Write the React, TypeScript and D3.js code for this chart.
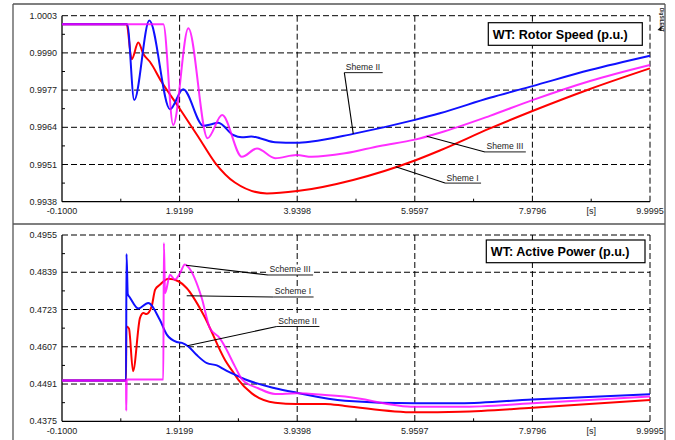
import React, { useEffect, useRef } from "react";
import * as d3 from "d3";

// ---------- axis ticks ----------
const timeTicks = [-0.1, 1.9199, 3.9398, 5.9597, 7.9796, 9.9995];
const timeTickLabels = ["-0.1000", "1.9199", "3.9398", "5.9597", "7.9796", "9.9995"];
const timeUnitLabel = "[s]";

const speedTicks = [0.9938, 0.9951, 0.9964, 0.9977, 0.999, 1.0003];
const speedTickLabels = ["0.9938", "0.9951", "0.9964", "0.9977", "0.9990", "1.0003"];

const powerTicks = [0.4375, 0.4491, 0.4607, 0.4723, 0.4839, 0.4955];
const powerTickLabels = ["0.4375", "0.4491", "0.4607", "0.4723", "0.4839", "0.4955"];

// ---------- rotor speed (p.u.) : [time s, value] ----------
const speedSchemeI: [number, number][] = [
  [-0.1, 1.0], [1.0, 1.0], [1.01, 1.0], [1.097, 0.99878], [1.21, 0.99936], [1.3, 0.99895],
  [1.41, 0.99869], [1.61, 0.99799], [1.9, 0.99712], [2.24, 0.99607], [2.53, 0.99516],
  [2.87, 0.99447], [3.42, 0.99409], [3.94, 0.99417], [4.9, 0.99456], [5.96, 0.99524],
  [6.39, 0.99559], [7.25, 0.99636], [7.98, 0.99697], [8.97, 0.99774], [9.9995, 0.99846],
];
const speedSchemeII: [number, number][] = [
  [-0.1, 1.0], [1.0, 1.0], [1.02, 1.0], [1.14, 0.99735], [1.4, 1.00013], [1.755, 0.99703],
  [1.98, 0.99773], [2.33, 0.99645], [2.45, 0.9965], [2.585, 0.99656], [2.84, 0.99613],
  [2.99, 0.99605], [3.15, 0.99608], [3.3, 0.99602], [3.56, 0.99588], [3.93, 0.99586],
  [4.19, 0.9959], [4.9, 0.99617], [5.96, 0.99666], [6.39, 0.99689], [7.25, 0.99743],
  [7.98, 0.99784], [8.97, 0.9984], [9.9995, 0.9989],
];
const speedSchemeIII: [number, number][] = [
  [-0.1, 1.0], [1.0, 1.0], [1.64, 1.0], [1.81, 0.99648], [2.07, 0.99986], [2.4, 0.99602],
  [2.65, 0.99683], [2.99, 0.99537], [3.25, 0.99566], [3.56, 0.99532], [3.93, 0.99543],
  [4.19, 0.99537], [4.76, 0.99549], [5.36, 0.99575], [5.96, 0.99597], [6.39, 0.99621],
  [7.25, 0.9968], [7.98, 0.99735], [8.97, 0.99802], [9.9995, 0.99858],
];

// ---------- active power (p.u.) : [time s, value] ----------
const powerSchemeI: [number, number][] = [
  [-0.1, 0.4502], [1.0, 0.4502], [1.004, 0.467], [1.05, 0.4664], [1.12, 0.4531],
  [1.24, 0.4697], [1.3, 0.4712], [1.35, 0.4709], [1.44, 0.4733], [1.5, 0.4785],
  [1.58, 0.48], [1.73, 0.4819], [1.9, 0.4811], [2.04, 0.479], [2.33, 0.4707],
  [2.7, 0.4566], [2.87, 0.452], [2.93, 0.4504], [3.16, 0.4462], [3.56, 0.4433],
  [3.93, 0.4429], [4.42, 0.4429], [4.76, 0.4423], [5.96, 0.4403], [6.74, 0.4405],
  [7.98, 0.4417], [9.9995, 0.4441],
];
const powerSchemeII: [number, number][] = [
  [-0.1, 0.4502], [1.0, 0.4502], [1.008, 0.4896], [1.03, 0.477], [1.06, 0.4762],
  [1.21, 0.4726], [1.38, 0.4743], [1.58, 0.4691], [1.7, 0.4645], [1.87, 0.4622],
  [1.96, 0.4619], [2.07, 0.4608], [2.21, 0.4582], [2.39, 0.4556], [2.56, 0.4549],
  [2.7, 0.4535], [2.87, 0.452], [3.04, 0.4506], [3.56, 0.4478], [3.93, 0.4464],
  [4.76, 0.4439], [5.96, 0.4431], [6.74, 0.4431], [7.98, 0.4443], [9.9995, 0.4459],
];
const powerSchemeIII: [number, number][] = [
  [-0.1, 0.4502], [1.0, 0.4502], [1.003, 0.4408], [1.012, 0.4505], [1.64, 0.4505],
  [1.65, 0.493], [1.67, 0.4774], [1.755, 0.4831], [1.84, 0.4816], [1.93, 0.4837],
  [2.01, 0.4863], [2.07, 0.4855], [2.3, 0.4759], [2.44, 0.4665], [2.61, 0.4634],
  [2.7, 0.4607], [2.87, 0.4546], [3.0, 0.4504], [3.27, 0.4478], [3.56, 0.446],
  [3.93, 0.4462], [4.42, 0.4457], [4.76, 0.4452], [5.96, 0.442], [6.74, 0.442],
  [7.98, 0.4431], [9.9995, 0.4452],
];

// ---------- annotations: label, anchor on curve [t, v], label start [t, v] ----------
const speedNotes = [
  { text: "Sheme II", anchor: [4.903, 0.99617], label: [4.749, 0.99831] },
  { text: "Sheme III", anchor: [6.164, 0.99609], label: [7.166, 0.99554] },
  { text: "Sheme I", anchor: [5.632, 0.99502], label: [6.479, 0.99445] },
];
const powerNotes = [
  { text: "Scheme III", anchor: [2.03, 0.48607], label: [3.438, 0.48305] },
  { text: "Scheme I", anchor: [2.042, 0.4766], label: [3.529, 0.4762] },
  { text: "Scheme II", anchor: [2.052, 0.46104], label: [3.588, 0.46701] },
];

const COLORS = { I: "#ff0000", II: "#1010ff", III: "#ff00ff" };
const FONT = "'Liberation Sans', Arial, Helvetica, sans-serif";

export default function App() {
  const ref = useRef<SVGSVGElement | null>(null);

  useEffect(() => {
    const svg = d3.select(ref.current);
    svg.selectAll("*").remove();

    const L = 62, R = 650;
    const x = d3.scaleLinear().domain([timeTicks[0], timeTicks[timeTicks.length - 1]]).range([L, R]);

    // outer frame
    const frame = svg.append("g").attr("fill", "none").attr("stroke", "#555").attr("stroke-width", 1.3);
    frame.append("line").attr("x1", 13).attr("x2", 13).attr("y1", 4).attr("y2", 440);
    frame.append("line").attr("x1", 665).attr("x2", 665).attr("y1", 4).attr("y2", 440);
    frame.append("line").attr("x1", 13).attr("x2", 665).attr("y1", 4).attr("y2", 4);
    frame.append("line").attr("x1", 13).attr("x2", 665).attr("y1", 224).attr("y2", 224);

    // DIgSILENT mark
    svg.append("text")
      .attr("transform", "translate(659.5,8) rotate(90)")
      .attr("font-family", FONT).attr("font-size", 4.6).attr("font-weight", "bold")
      .attr("fill", "#222").text("DIgSILENT");
    svg.append("path").attr("d", "M657.5,30 L661.5,26 L661.5,31 Z").attr("fill", "#111");

    function panel(opts: {
      top: number; bottom: number; yTicks: number[]; yLabels: string[];
      series: { data: [number, number][]; color: string; opacity: number }[];
      title: string; box: [number, number, number, number];
      notes: { text: string; anchor: number[]; label: number[] }[];
    }) {
      const y = d3.scaleLinear()
        .domain([opts.yTicks[0], opts.yTicks[opts.yTicks.length - 1]])
        .range([opts.bottom, opts.top]);
      const g = svg.append("g");

      // dashed grid
      const grid = g.append("g").attr("stroke", "#000").attr("stroke-width", 1)
        .attr("stroke-dasharray", "6,3");
      opts.yTicks.slice(1).forEach((v) => {
        grid.append("line").attr("x1", L).attr("x2", R).attr("y1", y(v)).attr("y2", y(v));
      });
      timeTicks.slice(1).forEach((t) => {
        grid.append("line").attr("x1", x(t)).attr("x2", x(t)).attr("y1", opts.top).attr("y2", opts.bottom);
      });

      // solid axes
      g.append("line").attr("x1", L).attr("x2", L).attr("y1", opts.top).attr("y2", opts.bottom)
        .attr("stroke", "#000").attr("stroke-width", 1.3);
      g.append("line").attr("x1", L).attr("x2", R).attr("y1", opts.bottom).attr("y2", opts.bottom)
        .attr("stroke", "#000").attr("stroke-width", 1.3);

      // minor ticks
      const minor = g.append("g").attr("stroke", "#000").attr("stroke-width", 1);
      for (let i = 0; i < timeTicks.length - 1; i++) {
        const t = (timeTicks[i] + timeTicks[i + 1]) / 2;
        minor.append("line").attr("x1", x(t)).attr("x2", x(t)).attr("y1", opts.bottom).attr("y2", opts.bottom - 3);
      }
      for (let i = 0; i < opts.yTicks.length - 1; i++) {
        const v = (opts.yTicks[i] + opts.yTicks[i + 1]) / 2;
        minor.append("line").attr("x1", L).attr("x2", L + 3).attr("y1", y(v)).attr("y2", y(v));
      }

      // tick labels
      const lab = g.append("g").attr("font-family", FONT).attr("font-size", 9).attr("fill", "#222");
      opts.yTicks.forEach((v, i) => {
        lab.append("text").attr("x", L - 5).attr("y", y(v)).attr("dy", "0.35em")
          .attr("text-anchor", "end").text(opts.yLabels[i]);
      });
      timeTicks.forEach((t, i) => {
        lab.append("text").attr("x", x(t)).attr("y", opts.bottom + 12.3)
          .attr("text-anchor", "middle").text(timeTickLabels[i]);
      });
      lab.append("text")
        .attr("x", x((timeTicks[4] + timeTicks[5]) / 2)).attr("y", opts.bottom + 12.3)
        .attr("text-anchor", "middle").text(timeUnitLabel);

      // curves
      const line = d3.line<[number, number]>()
        .x((d) => x(d[0])).y((d) => y(d[1])).curve(d3.curveMonotoneX);
      opts.series.forEach((s) => {
        g.append("path").attr("d", line(s.data) || "").attr("fill", "none")
          .attr("stroke", s.color).attr("stroke-width", 2).attr("stroke-opacity", s.opacity)
          .attr("stroke-linejoin", "round");
      });

      // annotations (white-backed labels with underline and leader)
      opts.notes.forEach((n) => {
        const ax = x(n.anchor[0]), ay = y(n.anchor[1]);
        const lx = x(n.label[0]), ly = y(n.label[1]);
        const bg = g.append("rect").attr("fill", "#fff");
        const txt = g.append("text").attr("x", lx + 1.5).attr("y", ly - 2.6)
          .attr("font-family", FONT).attr("font-size", 8.6).attr("fill", "#222").text(n.text);
        const w = (txt.node() as SVGTextElement).getComputedTextLength();
        bg.attr("x", lx).attr("y", ly - 10.5).attr("width", w + 4).attr("height", 10.5);
        g.append("line").attr("x1", lx).attr("x2", lx + w + 4).attr("y1", ly).attr("y2", ly)
          .attr("stroke", "#000").attr("stroke-width", 0.9);
        g.append("line").attr("x1", ax).attr("y1", ay).attr("x2", lx).attr("y2", ly)
          .attr("stroke", "#000").attr("stroke-width", 1.1);
      });

      // title box
      const [bx, by, bw, bh] = opts.box;
      g.append("rect").attr("x", bx).attr("y", by).attr("width", bw).attr("height", bh)
        .attr("fill", "#fff").attr("stroke", "#000").attr("stroke-width", 1.2);
      g.append("text").attr("x", bx + 4.5).attr("y", by + bh / 2).attr("dy", "0.36em")
        .attr("font-family", FONT).attr("font-size", 12.6).attr("font-weight", "bold")
        .attr("fill", "#000").text(opts.title);
    }

    panel({
      top: 15.7, bottom: 201.7, yTicks: speedTicks, yLabels: speedTickLabels,
      series: [
        { data: speedSchemeI, color: COLORS.I, opacity: 1 },
        { data: speedSchemeII, color: COLORS.II, opacity: 1 },
        { data: speedSchemeIII, color: COLORS.III, opacity: 0.82 },
      ],
      title: "WT: Rotor Speed (p.u.)", box: [488.3, 22.7, 154, 22.6], notes: speedNotes,
    });
    panel({
      top: 235, bottom: 421.3, yTicks: powerTicks, yLabels: powerTickLabels,
      series: [
        { data: powerSchemeI, color: COLORS.I, opacity: 1 },
        { data: powerSchemeII, color: COLORS.II, opacity: 1 },
        { data: powerSchemeIII, color: COLORS.III, opacity: 0.82 },
      ],
      title: "WT: Active Power (p.u.)", box: [486.3, 240, 158.7, 22.7], notes: powerNotes,
    });
  }, []);

  return (
    <svg ref={ref} width={675} height={440}
      style={{ position: "absolute", left: 0, top: 0, background: "#fff" }} />
  );
}
